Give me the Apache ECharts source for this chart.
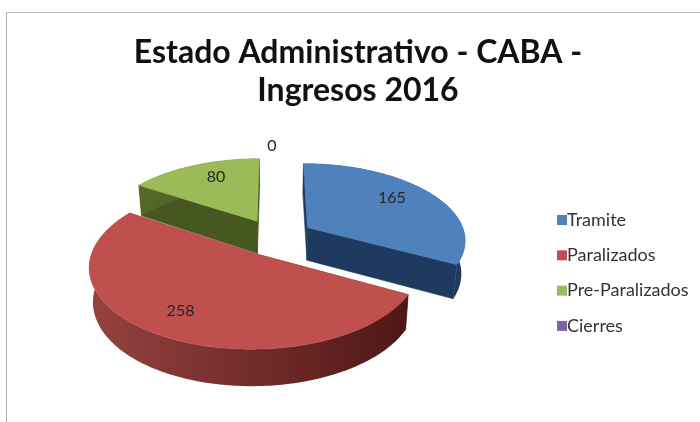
<!DOCTYPE html>
<html><head><meta charset="utf-8">
<style>html,body{margin:0;padding:0;background:#fff}#c{width:700px;height:422px}</style>
<script src="https://cdn.jsdelivr.net/npm/echarts@6/dist/echarts.min.js"></script>
</head><body><div id="c"></div>
<script>
var categories = ['Tramite', 'Paralizados', 'Pre-Paralizados', 'Cierres'];
var values = [165, 258, 80, 0];
var titleLines = ['Estado Administrativo - CABA -', 'Ingresos 2016'];
var topColors = ['#4F81BD', '#C0504D', '#9BBB59', '#8064A2'];
var cutColors = ['#1F3A5F', '#6E2422', '#46571F', '#4A3A60'];
var arcColors = [['#1F3A5F', '#1F3A5F'], ['#964240', '#4E1715'], ['#56692A', '#46571F'], ['#4A3A60', '#4A3A60']];

// view model of the tilted, exploded disc
var view = {x0: 275, y0: 237, a: 158, b: 76, persp: 0.148, explode: 0.245, depth: 33};
var labelRadius = [0.72, 0.8, 0.72, 1.42];
var labelNudge = [[-5, -4], [2, -5], [6, -3], [-3, 10]];

var total = values.reduce(function (s, v) { return s + v; }, 0);
function project(u, v, low) {
  var w = 1 + view.persp * v;
  var X = view.a * u / w, Y = -view.b * v / w;
  if (low) { X *= 0.98; Y += view.depth * (1 - 0.1 * v); }
  return [view.x0 + X, view.y0 + Y];
}
function renderSlice(idx) {
  return function (params, api) {
    var before = 0;
    for (var i = 0; i < idx; i++) before += values[i];
    var value = api.value(0);
    var start = before / total * Math.PI * 2;
    var end = (before + value) / total * Math.PI * 2;
    var mid = (start + end) / 2;
    var ox = view.explode * Math.sin(mid), oy = view.explode * Math.cos(mid);
    var kids = [];
    if (value > 0) {
      var n = Math.max(8, Math.round((end - start) * 60));
      var topArc = [], lowArc = [];
      for (var k = 0; k <= n; k++) {
        var t = start + (end - start) * k / n;
        topArc.push(project(ox + Math.sin(t), oy + Math.cos(t), false));
        lowArc.push(project(ox + Math.sin(t), oy + Math.cos(t), true));
      }
      var apexT = project(ox, oy, false), apexL = project(ox, oy, true);
      var poly = function (pts, fill, stroke, z) {
        kids.push({type: 'polygon', z2: z, shape: {points: pts},
          style: {fill: fill, stroke: stroke || fill, lineWidth: 0.6}});
      };
      poly([apexT, topArc[0], lowArc[0], apexL], cutColors[idx], null, 1);
      poly([apexT, topArc[n], lowArc[n], apexL], cutColors[idx], null, 1);
      var wallFill = new echarts.graphic.LinearGradient(0, 0, 1, 0, [
        {offset: 0, color: arcColors[idx][0]}, {offset: 1, color: arcColors[idx][1]}]);
      poly(topArc.concat(lowArc.slice().reverse()), wallFill, 'rgba(0,0,0,0)', 2);
      poly([apexT].concat(topArc), topColors[idx], null, 3);
    }
    var lr = labelRadius[idx];
    var lp = project(ox + lr * Math.sin(mid), oy + lr * Math.cos(mid), false);
    kids.push({type: 'text', z2: 5, style: {
      x: lp[0] + labelNudge[idx][0], y: lp[1] + labelNudge[idx][1],
      text: String(value), align: 'center', verticalAlign: 'middle',
      font: '16px Lato', fill: '#262626'}});
    return {type: 'group', children: kids};
  };
}
var drawOrder = [0, 2, 1, 3];
var series = drawOrder.map(function (i) {
  return {
    type: 'custom', name: categories[i], coordinateSystem: 'none', silent: true, z: 2,
    itemStyle: {color: topColors[i]},
    data: [[values[i]]], renderItem: renderSlice(i)
  };
});
var chart = echarts.init(document.getElementById('c'), null, {renderer: 'canvas'});
chart.setOption({
  animation: false,
  backgroundColor: '#fff',
  title: {
    text: titleLines.join('\n'), left: 353, top: 29, textAlign: 'center',
    textStyle: {fontFamily: 'Lato', fontWeight: 'bold', fontSize: 32, lineHeight: 38, color: '#111'}
  },
  legend: {
    data: categories, orient: 'vertical', left: 552, top: 206, itemWidth: 10, itemHeight: 10,
    itemGap: 17.3, icon: 'rect', selectedMode: false,
    textStyle: {fontFamily: 'Lato', fontSize: 18, color: '#333', padding: [0, 0, 0, -5], lineHeight: 18}
  },
  graphic: [
    {type: 'polyline', silent: true, z: 0, shape: {points: [[6.5, 422], [6.5, 12.5], [700, 12.5]]},
     style: {stroke: '#b4b4b4', lineWidth: 1, fill: null}}
  ],
  series: series
});
</script></body></html>
